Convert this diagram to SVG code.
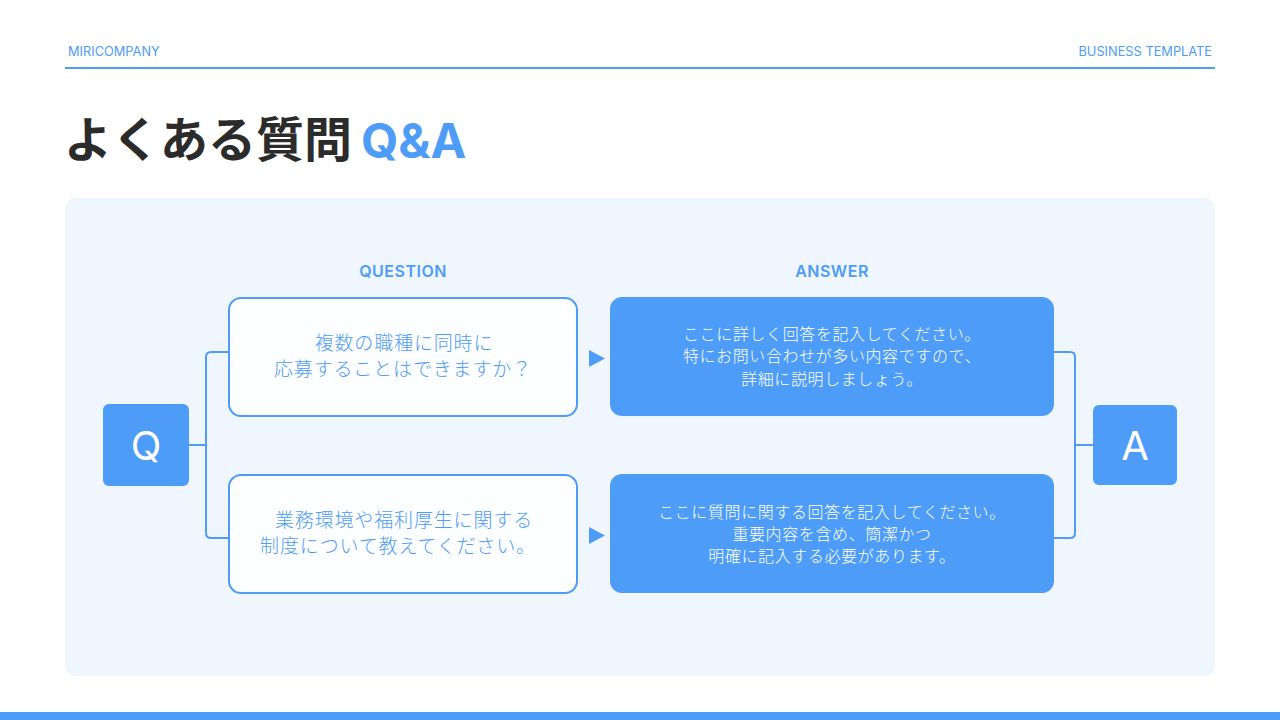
<svg xmlns="http://www.w3.org/2000/svg" width="1280" height="720" viewBox="0 0 1280 720">
<style>
.hdr{font-family:Inter,"Noto Sans",sans-serif;font-size:12.8px;fill:#4D9CF8}
.lbl{font-family:Inter,"Noto Sans",sans-serif;font-size:16px;font-weight:600;fill:#4D9CF8;text-anchor:middle;letter-spacing:0.5px}
.qt{font-family:"Noto Sans CJK JP",sans-serif;font-size:19px;font-weight:300;fill:#4D9CF8;text-anchor:middle;letter-spacing:0.85px}
.at{font-family:"Noto Sans CJK JP",sans-serif;font-size:16px;font-weight:300;fill:#FFFFFF;text-anchor:middle;letter-spacing:0.6px}
.qbox{fill:#FDFEFF;stroke:#4D9CF8;stroke-width:2}
.abox{fill:#4D9CF8}
.tag{fill:#4D9CF8}
.tagt{font-family:Inter,"Noto Sans",sans-serif;font-size:40px;font-weight:400;fill:#FFFFFF;text-anchor:middle}
.con{fill:none;stroke:#4D9CF8;stroke-width:2}
.tri{fill:#4D9CF8}
</style>
<rect width="1280" height="720" fill="#FFFFFF"/>
<text class="hdr" x="68" y="56">MIRICOMPANY</text>
<text class="hdr" x="1212" y="56" text-anchor="end">BUSINESS TEMPLATE</text>
<rect x="65" y="67" width="1150" height="2" fill="#4D9CF8"/>
<text x="64" y="157" font-family="'Noto Sans CJK JP',sans-serif" font-size="48" font-weight="700" fill="#2B2B2B">よくある質問</text>
<text x="361" y="158" font-family="Inter,'Noto Sans',sans-serif" font-size="48" font-weight="700" fill="#4D9CF8">Q&amp;A</text>
<rect x="65" y="198" width="1150" height="478" rx="10" fill="#F0F6FE"/>
<text class="lbl" x="403" y="277">QUESTION</text>
<text class="lbl" x="832" y="277">ANSWER</text>
<g id="connectors">
<path class="con" d="M189 445 H206 M229 352 H211 Q206 352 206 357 V533 Q206 538 211 538 H229"/>
<path class="con" d="M1053 352 H1070 Q1075 352 1075 357 V533 Q1075 538 1070 538 H1053 M1075 445 H1093"/>
<polygon class="tri" points="589,350 605,358.5 589,367"/>
<polygon class="tri" points="589,527 605,535.5 589,544"/>
</g>
<g id="node-q">
<rect class="tag" x="103" y="404" width="86" height="82" rx="6"/>
<text class="tagt" x="146" y="460">Q</text>
</g>
<g id="node-a">
<rect class="tag" x="1093" y="405" width="84" height="80" rx="6"/>
<text class="tagt" x="1135" y="460">A</text>
</g>
<g id="question-1">
<rect class="qbox" x="229" y="298" width="348" height="118" rx="12"/>
<text class="qt" x="404" y="350">複数の職種に同時に</text>
<text class="qt" x="403" y="376">応募することはできますか？</text>
</g>
<g id="question-2">
<rect class="qbox" x="229" y="475" width="348" height="118" rx="12"/>
<text class="qt" x="404" y="527">業務環境や福利厚生に関する</text>
<text class="qt" x="398" y="553">制度について教えてください。</text>
</g>
<g id="answer-1">
<rect class="abox" x="610" y="297" width="444" height="119" rx="12"/>
<text class="at" x="832" y="340">ここに詳しく回答を記入してください。</text>
<text class="at" x="832" y="362">特にお問い合わせが多い内容ですので、</text>
<text class="at" x="832" y="385">詳細に説明しましょう。</text>
</g>
<g id="answer-2">
<rect class="abox" x="610" y="474" width="444" height="119" rx="12"/>
<text class="at" x="832" y="518">ここに質問に関する回答を記入してください。</text>
<text class="at" x="832" y="540">重要内容を含め、簡潔かつ</text>
<text class="at" x="832" y="562">明確に記入する必要があります。</text>
</g>
<rect x="0" y="712" width="1280" height="8" fill="#4D9CF8"/>
</svg>
